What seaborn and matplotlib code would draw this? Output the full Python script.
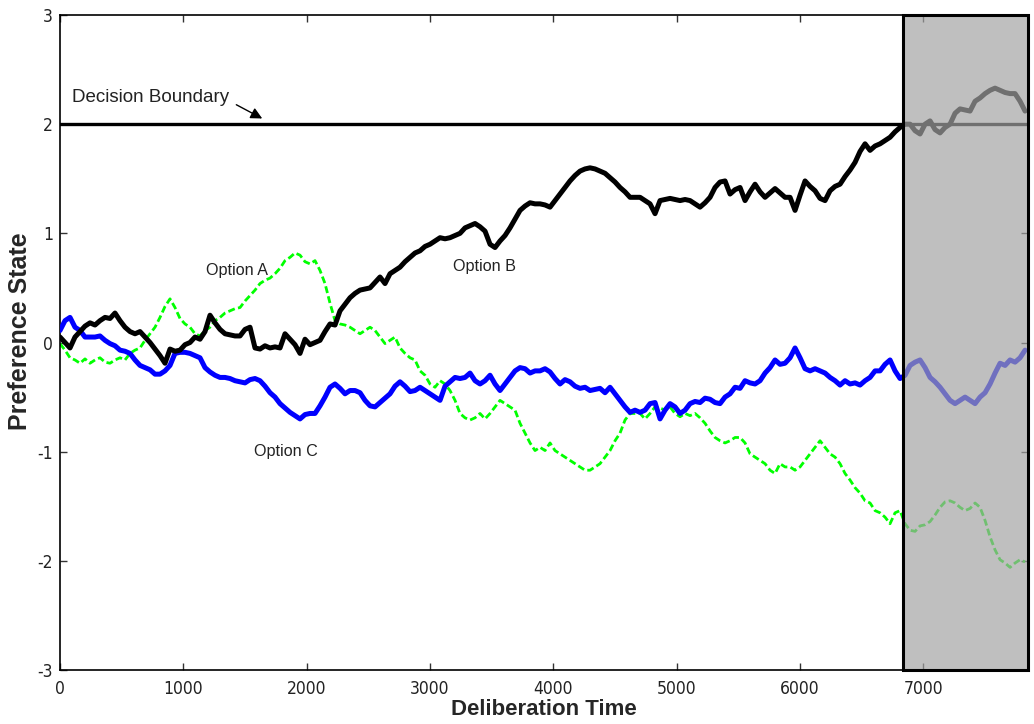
import numpy as np
import pandas as pd
import matplotlib
matplotlib.use("Agg")
import matplotlib.pyplot as plt
from matplotlib.patches import Rectangle
import seaborn as sns

# ---------------- data ----------------
TIME_STEP = 40.55           # deliberation-time units between samples
N_SAMPLES = 194
time = np.arange(N_SAMPLES) * TIME_STEP

option_b = [
    0.05, 0.00, -0.05, 0.05, 0.10, 0.15, 0.18, 0.16, 0.20, 0.23,
    0.22, 0.27, 0.20, 0.14, 0.10, 0.08, 0.10, 0.05, 0.00, -0.06,
    -0.12, -0.19, -0.06, -0.08, -0.07, -0.02, 0.00, 0.05, 0.03, 0.10,
    0.25, 0.18, 0.12, 0.08, 0.07, 0.06, 0.06, 0.12, 0.14, -0.05,
    -0.06, -0.03, -0.05, -0.04, -0.05, 0.08, 0.03, -0.02, -0.10, 0.03,
    -0.02, 0.00, 0.02, 0.10, 0.17, 0.16, 0.29, 0.35, 0.41, 0.45,
    0.48, 0.49, 0.50, 0.55, 0.60, 0.54, 0.63, 0.66, 0.69, 0.74,
    0.78, 0.82, 0.84, 0.88, 0.90, 0.93, 0.96, 0.95, 0.96, 0.98,
    1.00, 1.05, 1.07, 1.09, 1.06, 1.02, 0.90, 0.87, 0.93, 0.98,
    1.05, 1.13, 1.21, 1.25, 1.28, 1.27, 1.27, 1.26, 1.24, 1.30,
    1.36, 1.42, 1.48, 1.53, 1.57, 1.59, 1.60, 1.59, 1.57, 1.55,
    1.51, 1.47, 1.42, 1.38, 1.33, 1.33, 1.33, 1.30, 1.27, 1.18,
    1.30, 1.31, 1.32, 1.31, 1.30, 1.31, 1.30, 1.27, 1.24, 1.28,
    1.33, 1.42, 1.47, 1.48, 1.36, 1.40, 1.42, 1.30, 1.38, 1.45,
    1.38, 1.33, 1.37, 1.41, 1.37, 1.33, 1.33, 1.21, 1.35, 1.48,
    1.43, 1.39, 1.32, 1.30, 1.39, 1.43, 1.45, 1.52, 1.58, 1.65,
    1.75, 1.82, 1.76, 1.80, 1.82, 1.85, 1.88, 1.93, 1.97, 2.00,
    2.00, 1.94, 1.91, 2.00, 2.03, 1.95, 1.92, 1.97, 2.00, 2.10,
    2.14, 2.13, 2.12, 2.21, 2.24, 2.28, 2.31, 2.33, 2.31, 2.29,
    2.28, 2.28, 2.21, 2.12,
]

option_c = [
    0.11, 0.20, 0.23, 0.14, 0.11, 0.05, 0.05, 0.05, 0.06, 0.02,
    -0.01, -0.03, -0.07, -0.08, -0.10, -0.16, -0.21, -0.23, -0.25, -0.29,
    -0.29, -0.26, -0.21, -0.10, -0.09, -0.09, -0.10, -0.12, -0.14, -0.23,
    -0.27, -0.30, -0.32, -0.32, -0.33, -0.35, -0.36, -0.37, -0.34, -0.33,
    -0.35, -0.40, -0.46, -0.50, -0.56, -0.60, -0.64, -0.67, -0.70, -0.66,
    -0.65, -0.65, -0.58, -0.50, -0.41, -0.38, -0.42, -0.47, -0.44, -0.44,
    -0.46, -0.53, -0.58, -0.59, -0.55, -0.51, -0.47, -0.40, -0.36, -0.40,
    -0.45, -0.44, -0.41, -0.44, -0.47, -0.50, -0.53, -0.40, -0.36, -0.32,
    -0.33, -0.32, -0.28, -0.35, -0.38, -0.35, -0.30, -0.38, -0.44, -0.38,
    -0.32, -0.26, -0.23, -0.24, -0.28, -0.26, -0.26, -0.24, -0.27, -0.33,
    -0.38, -0.34, -0.36, -0.40, -0.42, -0.41, -0.44, -0.43, -0.42, -0.46,
    -0.41, -0.47, -0.53, -0.59, -0.64, -0.62, -0.64, -0.62, -0.56, -0.55,
    -0.70, -0.62, -0.56, -0.59, -0.65, -0.62, -0.56, -0.54, -0.55, -0.51,
    -0.52, -0.55, -0.56, -0.50, -0.47, -0.41, -0.42, -0.35, -0.37, -0.38,
    -0.35, -0.28, -0.23, -0.16, -0.20, -0.19, -0.14, -0.05, -0.14, -0.24,
    -0.26, -0.24, -0.26, -0.28, -0.32, -0.35, -0.39, -0.35, -0.38, -0.37,
    -0.39, -0.35, -0.32, -0.26, -0.26, -0.20, -0.16, -0.26, -0.33, -0.30,
    -0.21, -0.18, -0.16, -0.23, -0.32, -0.36, -0.41, -0.47, -0.53, -0.56,
    -0.53, -0.50, -0.53, -0.56, -0.50, -0.46, -0.38, -0.28, -0.19, -0.21,
    -0.16, -0.18, -0.14, -0.07,
]

option_a = [
    -0.01, -0.07, -0.14, -0.16, -0.19, -0.15, -0.19, -0.16, -0.14, -0.18,
    -0.19, -0.16, -0.14, -0.16, -0.10, -0.07, -0.05, 0.02, 0.08, 0.14,
    0.23, 0.33, 0.40, 0.32, 0.22, 0.17, 0.14, 0.08, 0.06, 0.11,
    0.14, 0.20, 0.23, 0.27, 0.29, 0.31, 0.32, 0.38, 0.43, 0.48,
    0.54, 0.57, 0.59, 0.63, 0.68, 0.75, 0.78, 0.82, 0.80, 0.74,
    0.72, 0.75, 0.66, 0.54, 0.36, 0.20, 0.17, 0.16, 0.14, 0.11,
    0.08, 0.11, 0.14, 0.11, 0.05, -0.01, 0.02, 0.05, -0.05, -0.10,
    -0.14, -0.16, -0.26, -0.30, -0.38, -0.41, -0.35, -0.38, -0.44, -0.53,
    -0.65, -0.69, -0.71, -0.69, -0.65, -0.70, -0.65, -0.59, -0.53, -0.56,
    -0.59, -0.62, -0.74, -0.83, -0.92, -0.99, -0.96, -0.99, -0.92, -0.99,
    -1.02, -1.05, -1.08, -1.11, -1.14, -1.17, -1.17, -1.14, -1.11, -1.05,
    -0.99, -0.90, -0.83, -0.71, -0.65, -0.65, -0.65, -0.70, -0.65, -0.59,
    -0.60, -0.62, -0.59, -0.65, -0.68, -0.65, -0.67, -0.65, -0.69, -0.74,
    -0.81, -0.87, -0.90, -0.92, -0.90, -0.87, -0.87, -0.92, -1.02, -1.05,
    -1.08, -1.11, -1.17, -1.20, -1.11, -1.14, -1.14, -1.17, -1.14, -1.08,
    -1.02, -0.96, -0.90, -0.96, -1.02, -1.05, -1.11, -1.20, -1.26, -1.33,
    -1.38, -1.45, -1.47, -1.54, -1.56, -1.60, -1.66, -1.56, -1.54, -1.66,
    -1.72, -1.73, -1.68, -1.67, -1.64, -1.58, -1.51, -1.46, -1.45, -1.47,
    -1.51, -1.54, -1.52, -1.47, -1.51, -1.63, -1.78, -1.90, -1.99, -2.02,
    -2.06, -2.02, -1.99, -2.01,
]

decision_boundary = 2.0
shade_start = 6840
x_max = 7850
x_ticks = [0, 1000, 2000, 3000, 4000, 5000, 6000, 7000]
y_ticks = [-3, -2, -1, 0, 1, 2, 3]

# ---------------- style ----------------
sns.set_style("ticks")
plt.rcParams["font.family"] = ["Liberation Sans", "DejaVu Sans"]
plt.rcParams["xtick.direction"] = "in"
plt.rcParams["ytick.direction"] = "in"

fig = plt.figure(figsize=(10.34, 7.24), dpi=100)
W, H = 1034, 724
ax = fig.add_axes([60 / W, 1 - 670 / H, (1028 - 60) / W, (670 - 15) / H])

df = pd.DataFrame({"time": time, "A": option_a, "B": option_b, "C": option_c})

sns.lineplot(data=df, x="time", y="A", ax=ax, color="#00ff00", lw=2.0,
             linestyle=(0, (2.5, 1.2)), estimator=None, sort=False, zorder=2)
sns.lineplot(data=df, x="time", y="C", ax=ax, color="#0000ff", lw=3.6,
             estimator=None, sort=False, zorder=3)
sns.lineplot(data=df, x="time", y="B", ax=ax, color="black", lw=3.6,
             estimator=None, sort=False, zorder=4)

ax.axhline(decision_boundary, color="black", lw=2.4, zorder=4)

# translucent grey panel over the post-decision period
ax.axvspan(shade_start, x_max, facecolor=(0.64, 0.64, 0.64), alpha=0.69,
           edgecolor="none", zorder=5)
ax.add_patch(Rectangle((shade_start, -3), x_max - shade_start, 6, fill=False,
                       edgecolor="black", lw=2.2, zorder=6, clip_on=False))

ax.set_xlim(0, x_max)
ax.set_ylim(-3, 3)
ax.set_xticks(x_ticks)
ax.set_yticks(y_ticks)
ax.set_xticklabels([str(v) for v in x_ticks], family=["DejaVu Sans"],
                   fontstretch="condensed", fontsize=12.5, color="#222222")
ax.set_yticklabels([str(v) for v in y_ticks], family=["DejaVu Sans"],
                   fontstretch="condensed", fontsize=12.5, color="#222222")
ax.tick_params(top=True, right=True, length=5, width=1, color="#333333")
ax.tick_params(axis="x", pad=7)
ax.tick_params(axis="y", pad=5)
for s in ax.spines.values():
    s.set_color("black")
    s.set_linewidth(1.2)

ax.set_xlabel("Deliberation Time", fontsize=16, fontweight="bold")
ax.set_ylabel("Preference State", fontsize=18, fontweight="bold")
ax.xaxis.set_label_coords(0.5, -0.045)
ax.yaxis.set_label_coords(-0.029, 0.518)

ax.text(100, 2.24, "Decision Boundary", fontsize=13.5, va="center", ha="left",
        color="#222222")
ax.annotate("", xy=(1660, 2.04), xytext=(1410, 2.19),
            arrowprops=dict(arrowstyle="-|>", color="black", lw=1.0,
                            mutation_scale=17))
ax.text(1435, 0.66, "Option A", fontsize=11.6, ha="center", va="center", color="#222222")
ax.text(3440, 0.70, "Option B", fontsize=11.6, ha="center", va="center", color="#222222")
ax.text(1833, -1.00, "Option C", fontsize=11.6, ha="center", va="center", color="#222222")

fig.savefig("out.png", dpi=100, facecolor="white")
